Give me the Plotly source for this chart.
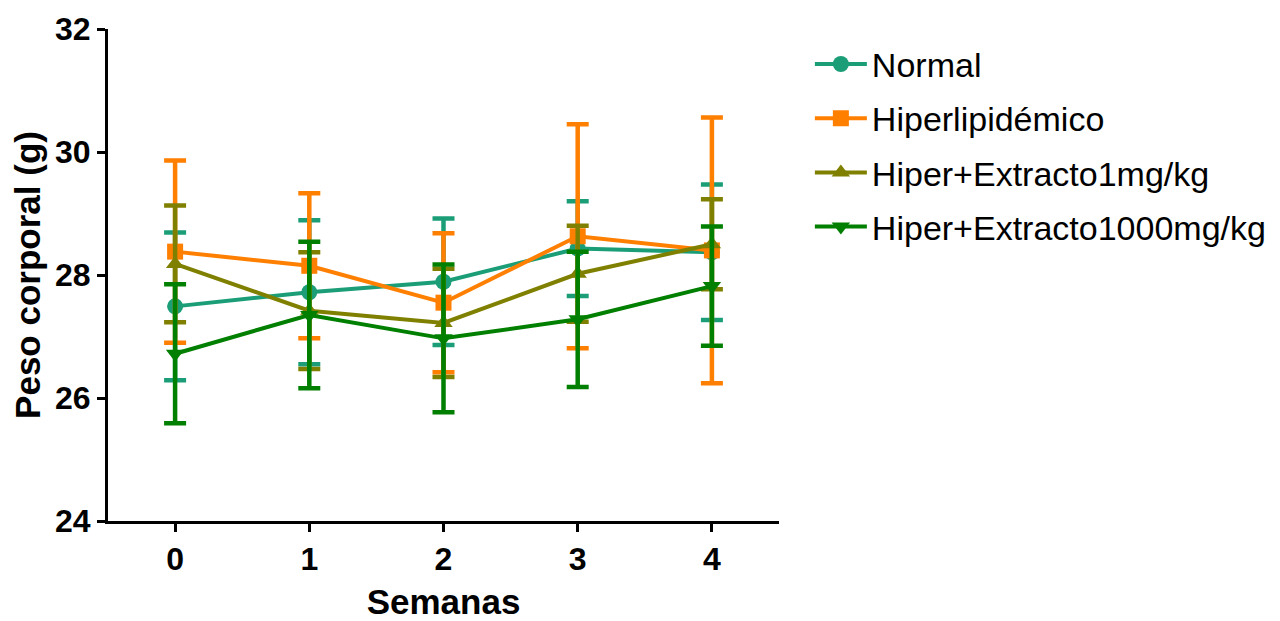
import plotly.graph_objects as go

semanas = [0, 1, 2, 3, 4]
series_names = ["Normal", "Hiperlipidémico", "Hiper+Extracto1mg/kg", "Hiper+Extracto1000mg/kg"]
normal_mean = [27.49, 27.72, 27.89, 28.43, 28.37]
normal_err = [1.20, 1.17, 1.03, 0.77, 1.10]
hiper_mean = [28.38, 28.15, 27.55, 28.63, 28.40]
hiper_err = [1.48, 1.18, 1.13, 1.82, 2.16]
ext1_mean = [28.18, 27.42, 27.22, 28.02, 28.50]
ext1_err = [0.95, 0.95, 0.88, 0.78, 0.73]
ext1000_mean = [26.72, 27.35, 26.97, 27.28, 27.82]
ext1000_err = [1.13, 1.19, 1.20, 1.10, 0.97]
y_ticks = [24, 26, 28, 30, 32]

colors = ["#1B9E77", "#FF7F00", "#808000", "#007F00"]
symbols = ["circle", "square", "triangle-up", "triangle-down"]
means = [normal_mean, hiper_mean, ext1_mean, ext1000_mean]
errs = [normal_err, hiper_err, ext1_err, ext1000_err]

fig = go.Figure()
for i, (name, m, e, c, s) in enumerate(zip(series_names, means, errs, colors, symbols)):
    fig.add_trace(go.Scatter(
        x=semanas, y=m, name=name, mode="lines+markers", legendgroup=f"g{i}",
        line=dict(color=c, width=4),
        marker=dict(color=c, symbol=s, size=16),
        error_y=dict(type="data", array=e, visible=True, color=c, thickness=4.5, width=11),
    ))

tick_font = dict(family="Liberation Sans, Arial", size=32, color="black")
title_font = dict(family="Liberation Sans, Arial", size=35, color="black")
fig.update_layout(
    width=1280, height=621,
    margin=dict(l=100, r=509, t=21, b=108, autoexpand=False),
    plot_bgcolor="white", paper_bgcolor="white",
    font=dict(family="Liberation Sans, Arial", color="black"),
    showlegend=True,
    legend=dict(x=1.046, y=0.987, xanchor="left", yanchor="top",
                font=dict(family="Liberation Sans, Arial", size=34, color="black"),
                itemwidth=52, tracegroupgap=7, bgcolor="rgba(0,0,0,0)"),
    xaxis=dict(range=[-0.5, 4.5], tickvals=semanas, ticktext=[f"<b>{v}</b>" for v in semanas],
               showline=True, linecolor="black", linewidth=3, ticks="outside",
               ticklen=8, tickwidth=3, tickcolor="black", showgrid=False, zeroline=False,
               tickfont=tick_font, automargin=False,
               title=dict(text="<b>Semanas</b>", font=title_font, standoff=14)),
    yaxis=dict(range=[24, 32], tickvals=y_ticks, ticktext=[f"<b>{v}</b>" for v in y_ticks],
               showline=True, linecolor="black", linewidth=3, ticks="outside",
               ticklen=8, tickwidth=3, tickcolor="black", showgrid=False, zeroline=False,
               tickfont=tick_font, automargin=False,
               title=dict(text="<b>Peso corporal (g)</b>", font=title_font, standoff=6)),
)
fig.write_html("out.html")
